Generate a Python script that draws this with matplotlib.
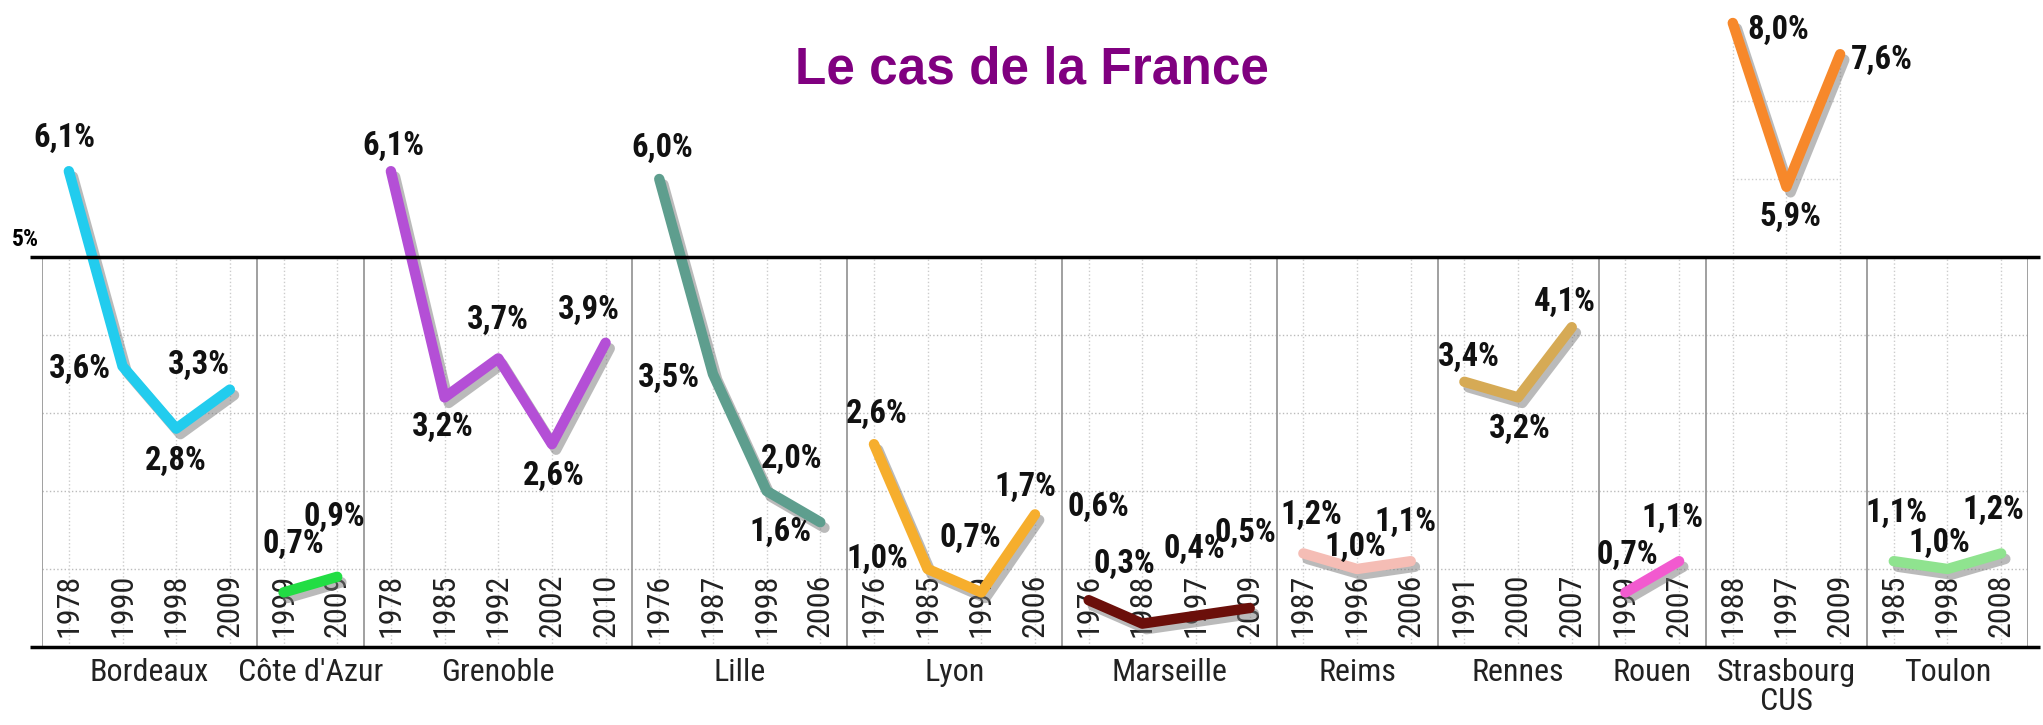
import matplotlib.pyplot as plt
import matplotlib.patheffects as pe
from matplotlib import font_manager

cities = ["Bordeaux", "Côte d'Azur", "Grenoble", "Lille", "Lyon", "Marseille",
          "Reims", "Rennes", "Rouen", "Strasbourg\nCUS", "Toulon"]
years = [
    ["1978", "1990", "1998", "2009"],
    ["1999", "2009"],
    ["1978", "1985", "1992", "2002", "2010"],
    ["1976", "1987", "1998", "2006"],
    ["1976", "1985", "1999", "2006"],
    ["1976", "1988", "1997", "2009"],
    ["1987", "1996", "2006"],
    ["1991", "2000", "2007"],
    ["1999", "2007"],
    ["1988", "1997", "2009"],
    ["1985", "1998", "2008"],
]
rates = [
    [6.1, 3.6, 2.8, 3.3],
    [0.7, 0.9],
    [6.1, 3.2, 3.7, 2.6, 3.9],
    [6.0, 3.5, 2.0, 1.6],
    [2.6, 1.0, 0.7, 1.7],
    [0.6, 0.3, 0.4, 0.5],
    [1.2, 1.0, 1.1],
    [3.4, 3.2, 4.1],
    [0.7, 1.1],
    [8.0, 5.9, 7.6],
    [1.1, 1.0, 1.2],
]
colors = ["#22ccee", "#22dd44", "#b44fd6", "#5e9e8e", "#f6ae2d", "#6b0f0a",
          "#f5bdb5", "#d6aa55", "#f25acf", "#f7882a", "#8fe38f"]

# where each value label sits relative to its point (points)
offsets = [
    [(-3, 24), (-31, -2), (0, -23), (-22, 18)],
    [(7, 35), (-2, 43)],
    [(2, 18), (-1, -21), (0, 28), (1, -23), (-12, 24)],
    [(2, 22), (-32, -3), (18, 23), (-29, -7)],
    [(2, 22), (-36, 7), (-8, 39), (-7, 20)],
    [(7, 67), (-13, 43), (-1, 48), (-3, 54)],
    [(6, 28), (-1, 16), (-4, 28)],
    [(3, 18), (1, -23), (-5, 18)],
    [(1, 27), (-5, 31)],
    [(33, -5), (3, -22), (30, -4)],
    [(2, 35), (-6, 19), (-6, 31)],
]

names = {f.name for f in font_manager.fontManager.ttflist}
narrow = "DejaVu Sans"
for cand in ["Liberation Sans Narrow", "Arial Narrow", "Roboto Condensed",
             "Archivo Narrow", "PT Sans Narrow"]:
    if cand in names:
        narrow = cand
        break
nfont = dict(family=[narrow, "DejaVu Sans"], fontstretch="condensed")

fig = plt.figure(figsize=(20.43, 7.25), dpi=100)
ax = fig.add_axes([42 / 2043, 78 / 725, 1986 / 2043, 390 / 725])
n_slots = sum(len(r) for r in rates)
ax.set_xlim(0, n_slots)
ax.set_ylim(0, 5)
ax.axis("off")

# horizontal grid and frame
for g in [1, 2, 3, 4]:
    ax.plot([0, n_slots], [g, g], color="#bbbbbb", lw=1, ls=":", zorder=1)
for yv in [0, 5]:
    ax.plot([-0.22, n_slots + 0.22], [yv, yv], color="black", lw=2.5,
            clip_on=False, zorder=6, solid_capstyle="butt")
ax.plot([0, 0], [0, 5], color="#999999", lw=1.3, zorder=2)
ax.plot([n_slots, n_slots], [0, 5], color="#999999", lw=1.3, zorder=2)

shadow = [pe.SimpleLineShadow(offset=(3, -4), shadow_color="#777777", alpha=0.5),
          pe.Normal()]

start = 0
for city, yrs, vals, col, offs in zip(cities, years, rates, colors, offsets):
    xs = [start + i + 0.5 for i in range(len(vals))]
    for x, yr in zip(xs, yrs):
        ax.plot([x, x], [0, 5], color="#cccccc", lw=1, ls=":", zorder=1)
        ax.annotate(yr, (x, 0), xytext=(0, 7), textcoords="offset points",
                    rotation=90, ha="center", va="bottom", fontsize=23,
                    color="#222222", zorder=2, **nfont)
    if min(vals) > 5:
        for x, v in zip(xs, vals):
            ax.plot([x, x], [5, v], color="#cccccc", lw=1, ls=":",
                    clip_on=False, zorder=1)
        for g in [6, 7]:
            ax.plot([xs[0], xs[-1]], [g, g], color="#cccccc", lw=1, ls=":",
                    clip_on=False, zorder=1)
    ax.plot(xs, vals, color=col, lw=7.5, solid_capstyle="round",
            solid_joinstyle="round", clip_on=False, zorder=4,
            path_effects=shadow)
    for x, v, (dx, dy) in zip(xs, vals, offs):
        ax.annotate(f"{v:.1f}%".replace(".", ","), (x, v), xytext=(dx, dy),
                    textcoords="offset points", ha="center", va="center",
                    fontsize=23.5, fontweight="bold", color="#111111",
                    zorder=5, annotation_clip=False, **nfont)
    end = start + len(vals)
    if end < n_slots:
        ax.plot([end, end], [0, 5], color="#999999", lw=1.3, zorder=2)
    ax.annotate(city, ((start + end) / 2, 0), xytext=(0, -8),
                textcoords="offset points", ha="center", va="top",
                fontsize=23, color="#222222", linespacing=1.0,
                annotation_clip=False, **nfont)
    start = end

ax.annotate("5%", (0, 5), xytext=(-2, 4), textcoords="offset points",
            ha="right", va="bottom", fontsize=17, fontweight="bold",
            annotation_clip=False, **nfont)

fig.text(1032 / 2043, 1 - 83 / 725, "Le cas de la France", ha="center",
         va="baseline", fontsize=37, fontweight="bold", color="#800080",
         family=["Liberation Sans", "DejaVu Sans"])

fig.savefig("out.png", dpi=100)
